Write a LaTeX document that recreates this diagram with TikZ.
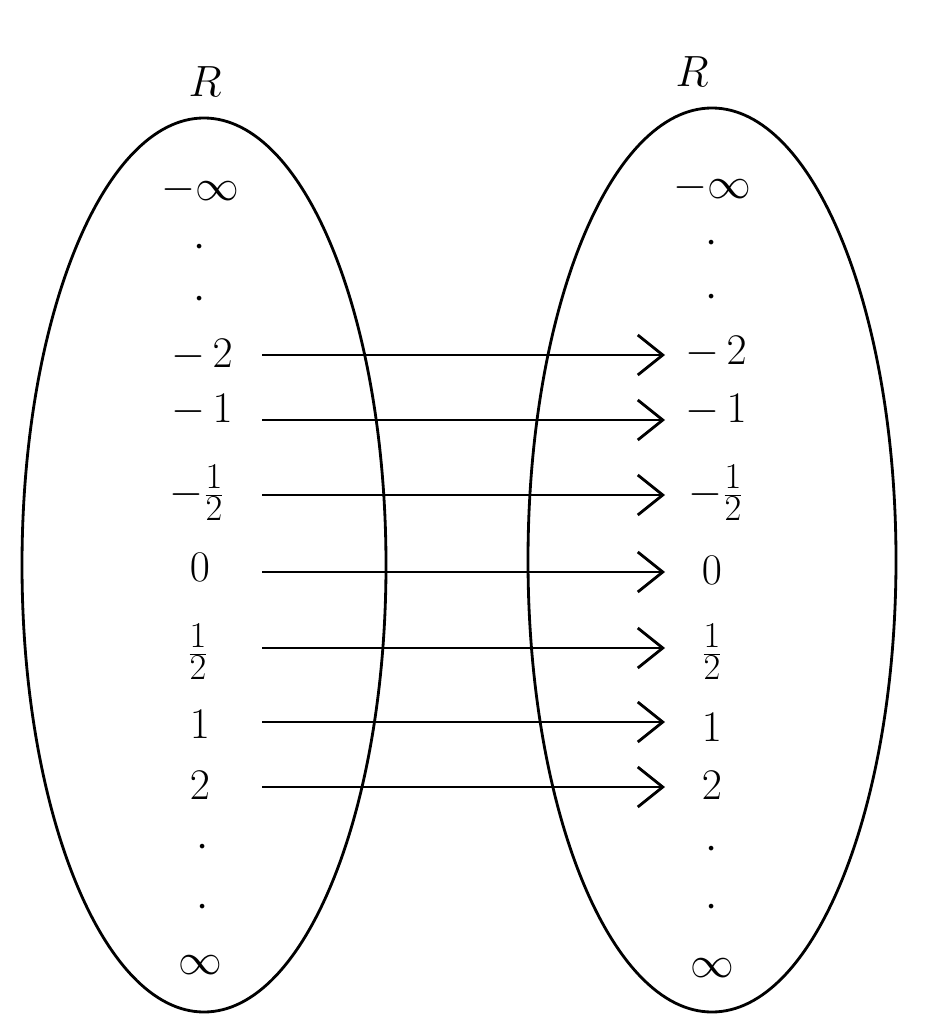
\documentclass[tikz,border=0pt]{standalone}
\usetikzlibrary{arrows.meta}
\begin{document}
\begin{tikzpicture}[x=0.02cm,y=-0.02cm,line width=1.6pt,
    >={Straight Barb[length=5mm,width=8mm,line width=1.6pt]},
    num/.style={font=\fontsize{28}{30}\selectfont,inner sep=0.5pt},
    setname/.style={font=\fontsize{34}{36}\selectfont}]

    \useasboundingbox (0,0) rectangle (937,1024);

    % the two sets
    \draw (204,565) ellipse [x radius=182,y radius=447];
    \draw (712,560) ellipse [x radius=184,y radius=452];
    \node [setname] (nameL) at (205,82) {$R$};
    \node [setname] (nameR) at (692,72) {$R$};

    % left labels
    \node [num] (lminf) at (200,190) {$-\infty$};
    \node [num] (ldotA) at (200,248) {$\cdot$};
    \node [num] (ldotB) at (200,300) {$\cdot$};
    \node [num] (lmtwo) at (202,355) {$-\,2$};
    \node [num] (lmone) at (202,410) {$-\,1$};
    \node [num] (lmhalf) at (197,493) {$-\frac{1}{2}$};
    \node [num] (lzero) at (200,567) {$0$};
    \node [num] (lhalf) at (198,652) {$\frac{1}{2}$};
    \node [num] (lone) at (200,724) {$1$};
    \node [num] (ltwo) at (200,785) {$2$};
    \node [num] (ldotC) at (203,848) {$\cdot$};
    \node [num] (ldotD) at (203,908) {$\cdot$};
    \node [num] (linf) at (200,965) {$\infty$};

    % right labels
    \node [num] (rminf) at (712,188) {$-\infty$};
    \node [num] (rdotA) at (712,244) {$\cdot$};
    \node [num] (rdotB) at (712,298) {$\cdot$};
    \node [num] (rmtwo) at (716,352) {$-\,2$};
    \node [num] (rmone) at (716,410) {$-\,1$};
    \node [num] (rmhalf) at (716,493) {$-\frac{1}{2}$};
    \node [num] (rzero) at (712,570) {$0$};
    \node [num] (rhalf) at (712,652) {$\frac{1}{2}$};
    \node [num] (rone) at (712,727) {$1$};
    \node [num] (rtwo) at (712,785) {$2$};
    \node [num] (rdotC) at (712,850) {$\cdot$};
    \node [num] (rdotD) at (712,908) {$\cdot$};
    \node [num] (rinf) at (712,968) {$\infty$};

    % mapping arrows
    \foreach \y [count=\i] in {355,420,495,572,648,722,787} {
        \coordinate (s\i) at (262,\y);
        \coordinate (t\i) at (665,\y);
        \draw [->] (s\i) -- (t\i);
    }

\end{tikzpicture}
\end{document}
